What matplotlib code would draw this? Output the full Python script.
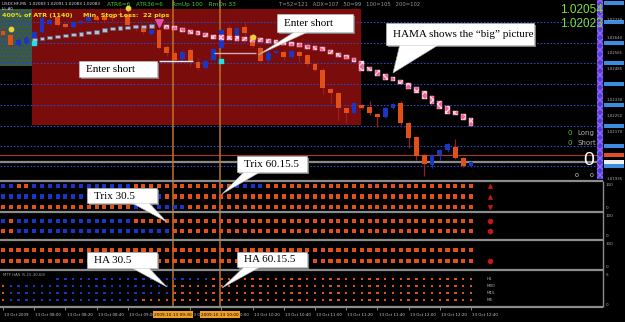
import numpy as np
import matplotlib
matplotlib.use("Agg")
import matplotlib.pyplot as plt
from matplotlib.patches import Rectangle, Polygon

# ---- data (USDCHF M5, 13 Oct 2009, 07:40 .. 12:40) ----
opens = [1.02675, 1.02655, 1.02605, 1.02615, 1.02640, 1.02670, 1.02710, 1.02745, 1.02710, 1.02695,
         1.02715, 1.02725, 1.02745, 1.02750, 1.02745, 1.02760, 1.02755, 1.02705, 1.02695, 1.02660,
         1.02680, 1.02595, 1.02565, 1.02535, 1.02580, 1.02520, 1.02490, 1.02530, 1.02590, 1.02690,
         1.02645, 1.02695, 1.02655, 1.02590, 1.02530, 1.02565, 1.02570, 1.02545, 1.02570, 1.02555,
         1.02510, 1.02480, 1.02385, 1.02365, 1.02290, 1.02265, 1.02305, 1.02295, 1.02260, 1.02245,
         1.02290, 1.02315, 1.02215, 1.02145, 1.02055, 1.02005, 1.02055, 1.02080, 1.02095, 1.02040,
         1.02000]
highs = [1.02685, 1.02665, 1.02640, 1.02650, 1.02680, 1.02750, 1.02735, 1.02760, 1.02715, 1.02725,
         1.02730, 1.02750, 1.02755, 1.02770, 1.02765, 1.02790, 1.02785, 1.02710, 1.02705, 1.02690,
         1.02690, 1.02605, 1.02575, 1.02580, 1.02590, 1.02540, 1.02530, 1.02590, 1.02690, 1.02705,
         1.02695, 1.02720, 1.02665, 1.02600, 1.02575, 1.02580, 1.02580, 1.02580, 1.02580, 1.02560,
         1.02520, 1.02490, 1.02390, 1.02370, 1.02295, 1.02320, 1.02310, 1.02325, 1.02265, 1.02295,
         1.02315, 1.02325, 1.02220, 1.02150, 1.02060, 1.02060, 1.02085, 1.02115, 1.02135, 1.02045,
         1.02025]
lows = [1.02645, 1.02595, 1.02600, 1.02610, 1.02630, 1.02665, 1.02705, 1.02700, 1.02690, 1.02690,
        1.02710, 1.02720, 1.02725, 1.02720, 1.02725, 1.02745, 1.02695, 1.02675, 1.02660, 1.02655,
        1.02585, 1.02550, 1.02520, 1.02530, 1.02500, 1.02480, 1.02485, 1.02525, 1.02585, 1.02640,
        1.02640, 1.02655, 1.02590, 1.02520, 1.02520, 1.02560, 1.02530, 1.02540, 1.02520, 1.02500,
        1.02475, 1.02360, 1.02315, 1.02230, 1.02215, 1.02260, 1.02285, 1.02255, 1.02195, 1.02240,
        1.02285, 1.02205, 1.02090, 1.02030, 1.01950, 1.01990, 1.02030, 1.02070, 1.02035, 1.01995,
        1.01995]
closes = [1.02655, 1.02605, 1.02630, 1.02640, 1.02670, 1.02740, 1.02730, 1.02705, 1.02695, 1.02720,
          1.02725, 1.02745, 1.02730, 1.02730, 1.02740, 1.02755, 1.02705, 1.02690, 1.02670, 1.02680,
          1.02590, 1.02565, 1.02530, 1.02570, 1.02525, 1.02490, 1.02525, 1.02585, 1.02680, 1.02645,
          1.02690, 1.02665, 1.02600, 1.02525, 1.02565, 1.02575, 1.02545, 1.02575, 1.02550, 1.02510,
          1.02480, 1.02390, 1.02365, 1.02290, 1.02265, 1.02315, 1.02290, 1.02265, 1.02245, 1.02290,
          1.02310, 1.02215, 1.02140, 1.02050, 1.02010, 1.02055, 1.02080, 1.02110, 1.02040, 1.02000,
          1.02020]

hama_start = 4
hama_turn = 20
hama = [1.02630, 1.02635, 1.02640, 1.02645, 1.02650, 1.02655, 1.02660, 1.02665, 1.02670, 1.02680,
        1.02685, 1.02690, 1.02693, 1.02695, 1.02698, 1.02700, 1.02705, 1.02695, 1.02690, 1.02680,
        1.02670, 1.02665, 1.02655, 1.02645, 1.02643, 1.02640, 1.02638, 1.02635, 1.02633, 1.02630,
        1.02625, 1.02620, 1.02615, 1.02610, 1.02605, 1.02595, 1.02590, 1.02585, 1.02570, 1.02555,
        1.02545, 1.02530, 1.02500, 1.02485, 1.02465, 1.02445, 1.02435, 1.02420, 1.02400, 1.02380,
        1.02355, 1.02330, 1.02305, 1.02280, 1.02265, 1.02245, 1.02220]

level_lines = [1.02720, 1.02615, 1.02515, 1.02410, 1.02305, 1.02200, 1.02100, 1.02000]
bid_price, ask_price = 1.02055, 1.02022
price_ticks = [1.02730, 1.02640, 1.02565, 1.02485, 1.02330, 1.02250, 1.02170, 1.01935]

session_box = (3.7, 45.9, 1.02205, 1.02785)   # bar from, bar to, low, high
range_box = (-0.4, 3.7, 1.02500, 1.02785)

entry_from = [20, 27]
entry_to = [24.4, 32.4]
entry_price = [1.02525, 1.02565]

yellow_bars, yellow_prices = [1, 16, 32], [1.02685, 1.02790, 1.02645]
cyan_bars, cyan_prices = [4, 28], [1.02615, 1.02525]

marked_bars = [22, 28]
marked_labels = ['2009.10.13 09:30', '2009.10.13 10:00']
# the 09:20 label sits fully under the first highlight, so it is not listed
tick_bars = [0, 4, 8, 12, 16, 24, 28, 32, 36, 40, 44, 48, 52, 56, 60]
tick_labels = ['13 Oct 2009', '13 Oct 08:00', '13 Oct 08:20', '13 Oct 08:40', '13 Oct 09:00',
               '13 Oct 09:40', '13 Oct 10:00', '13 Oct 10:20', '13 Oct 10:40',
               '13 Oct 11:00', '13 Oct 11:20', '13 Oct 11:40', '13 Oct 12:00', '13 Oct 12:20',
               '13 Oct 12:40']

# b = up (blue), r = down (orange), . = nothing
trix_rows = ['bb' + 'rr' + 'b' * 13 + 'r' * 13 + 'b' * 4 + 'r' * 27,
             'b' * 21 + 'r' * 40,
             'r' * 17 + 'b' * 7 + 'r' * 37]
trix2_rows = ['b' + 'r' + 'b' * 15 + 'r' * 44,
              'rr' + 'b' * 20 + 'r' * 39]
ha_rows = ['r' * 61, 'r' * 61]
mtf_rows = ['.' * 7 + 'b' * 20 + 'r' * 34,
            'r' + 'b' * 21 + 'r' * 39,
            'r' + 'b' * 21 + 'r' * 39,
            'r' + 'b' * 17 + 'r' * 43]
mtf_names = ['H1', 'M30', 'M15', 'M5']

# ---- styling ----
W, H = 625, 322
BULL, BEAR = '#1c36c4', '#e2501a'
SIG = {'b': '#1a36c8', 'r': '#e2501a'}
XL = (-3 / 7.8, 600 / 7.8)
YL = (1.01925, 1.02830)
SMALL = ['Liberation Sans Narrow', 'DejaVu Sans']
VLINE = '#c0722a'

fig = plt.figure(figsize=(W / 100, H / 100), dpi=100, facecolor='black')


def px_axes(x0, y0, x1, y1):
    a = fig.add_axes([x0 / W, 1 - y1 / H, (x1 - x0) / W, (y1 - y0) / H])
    a.set_facecolor('black')
    a.set_xticks([])
    a.set_yticks([])
    for s in a.spines.values():
        s.set_visible(False)
    return a


# ---- main price panel ----
ax = px_axes(0, 0, 603, 181)
ax.set_xlim(XL)
ax.set_ylim(YL)

b0, b1, lo, hi = session_box
ax.add_patch(Rectangle((b0, lo), b1 - b0, hi - lo, fc='#7a0c0c', ec='none', zorder=0.5))
r0, r1, rlo, rhi = range_box
ax.add_patch(Rectangle((r0, rlo), r1 - r0, rhi - rlo, fc='#3e5c34', ec='#2a48a8',
                       hatch='....', lw=0, zorder=0.6))

ax.hlines(level_lines, XL[0], XL[1], colors='#2848c0', linestyles=(0, (1.5, 1.5)), lw=0.8, zorder=1)
ax.axhline(bid_price, color='#a83a2a', lw=0.8, zorder=1)
ax.axhline(ask_price, color='#8a8a8a', lw=1.6, zorder=1)
for b in marked_bars:
    ax.axvline(b - 0.2, color=VLINE, lw=1.1, zorder=1.5)

idx = np.arange(len(opens))
o, h, l, c = map(np.array, (opens, highs, lows, closes))
up = c >= o
ax.vlines(idx, l, h, colors=np.where(up, '#2030a0', '#9a2020'), lw=0.9, zorder=2)
ax.bar(idx, np.maximum(np.abs(c - o), 0.00006), bottom=np.minimum(o, c), width=0.62,
       color=np.where(up, BULL, BEAR), zorder=3)

hb = np.arange(hama_start, hama_start + len(hama))
hv = np.array(hama)
hh = np.maximum(0.00022, 1.6 * np.abs(np.diff(hv, prepend=hv[0])))
gray = hb < hama_turn
pink = hb > hama_turn
ax.bar(hb[gray], 0.00015, bottom=hv[gray] - 0.000075, width=0.6, color='#b4c0d4',
       edgecolor='#506080', lw=0.4, zorder=4)
ax.bar(hb[pink], hh[pink], bottom=hv[pink] - hh[pink] / 2, width=0.6, color='#f06090',
       edgecolor='#ffd0e0', hatch='xxxx', lw=0.3, zorder=4)
ax.scatter([hama_turn], [hv[hb == hama_turn][0] + 0.0001], marker='v', s=30, color='#e050b0', zorder=5)

ax.hlines(entry_price, entry_from, entry_to, colors=['#f4e8e8', '#d8a8b0'], lw=1.0, zorder=4)
ax.scatter(yellow_bars, yellow_prices, s=10, color='#e8d040', zorder=6)
ax.scatter(cyan_bars, cyan_prices, s=10, marker='s', color='#20e0e0', zorder=6)

# right price scale
axr = px_axes(603, 0, 625, 181)
axr.set_xlim(0, 1)
axr.set_ylim(YL)
axr.barh(level_lines + [1.02815], 0.92, left=0.04, height=0.0002, color='#3c8ce0')
axr.barh([bid_price], 0.92, left=0.04, height=0.0002, color='#e05020')
axr.barh([ask_price], 0.92, left=0.04, height=0.0002, color='#f0f0f0')
for t in price_ticks:
    axr.text(0.15, t, f'{t:.5f}', fontsize=2.8, color='#b0b0b0', va='center', family=SMALL)


# ---- indicator panels ----
def draw_rows(a, rows, size):
    for r, row in enumerate(rows):
        xs = [i for i, k in enumerate(row) if k != '.']
        a.scatter(xs, [r] * len(xs), marker='s', s=size, c=[SIG[row[i]] for i in xs],
                  linewidths=0, zorder=3)


ax1 = px_axes(0, 181, 603, 212)
ax1.set_xlim(XL)
ax1.set_ylim(2.48, -0.48)
draw_rows(ax1, trix_rows, 9)
ax1.scatter([62.4, 62.4], [0, 1], marker='^', s=6, color='#c01818')
ax1.scatter([62.4], [2], marker='v', s=6, color='#c01818')

ax2 = px_axes(0, 212, 603, 240)
ax2.set_xlim(XL)
ax2.set_ylim(1.9, -0.9)
draw_rows(ax2, trix2_rows, 9)
ax2.scatter([62.4, 62.4], [0, 1], marker='P', s=6, color='#c01818')

ax3 = px_axes(0, 240, 603, 270)
ax3.set_xlim(XL)
ax3.set_ylim(1.82, -0.91)
draw_rows(ax3, ha_rows, 10)
ax3.scatter([62.4], [1], marker='P', s=6, color='#c01818')
ax3.text(0, -0.7, '. .', fontsize=3, color='#a0a0a0', va='center')

ax4 = px_axes(0, 270, 603, 307)
ax4.set_xlim(XL)
ax4.set_ylim(4.0, -1.29)
draw_rows(ax4, mtf_rows, 3.5)
for r, name in enumerate(mtf_names):
    ax4.text(62.0, r, name, fontsize=3, color='#b0b0b0', va='center', family=SMALL)
ax4.text(0, -0.6, 'MTF HAS (5,15,30,60)', fontsize=2.8, color='#a0a0a0', va='center', family=SMALL)

for a in (ax1, ax2, ax3, ax4):
    for b in marked_bars:
        a.axvline(b - 0.2, color=VLINE, lw=1.1, zorder=1)

# ---- time axis ----
axt = px_axes(0, 307, 603, 322)
axt.set_xlim(XL)
axt.set_ylim(1, 0)
axt.vlines(tick_bars, 0, 0.18, colors='#a0a0a0', lw=0.6)
for b, lab in zip(tick_bars, tick_labels):
    axt.text(b + 0.15, 0.5, lab, fontsize=2.9, color='#c8c8c8', va='center', family=SMALL)
for b, lab in zip(marked_bars, marked_labels):
    axt.text(b - 0.2, 0.5, lab, fontsize=3.1, color='black', va='center', ha='center',
             family=SMALL, zorder=5, bbox=dict(fc='#f0a028', ec='none', pad=0.8))

# ---- overlay: separators, texts, callouts ----
ov = fig.add_axes([0, 0, 1, 1])
ov.set_xlim(0, W)
ov.set_ylim(H, 0)
ov.axis('off')
ov.patch.set_alpha(0)

ov.hlines([181, 212, 240, 270, 307], 0, 603, colors='#8c8c8c', lw=1.6)
ov.vlines(603, 181, 307, colors='#8c8c8c', lw=1.0)
ov.add_patch(Rectangle((597, 0), 6, 179, fc='#5a3ad8', ec='#8a6aff', hatch='xxxx', lw=0))

ov.text(2, 4, 'USDCHF,M5  1.02083 1.02091 1.02083 1.02083', fontsize=3.0, color='#e0e0e0',
        va='center', family=SMALL)
ov.text(2, 9, 'L:L:A0', fontsize=2.8, color='#e0e0e0', va='center', family=SMALL)
ov.text(107, 4, 'ATR6=6   ATR36=6', fontsize=4.2, color='#3cc83c', va='center', family=SMALL)
ov.text(172, 4, 'RmUp 100   RmDn 33', fontsize=4.2, color='#3cc83c', va='center', family=SMALL)
ov.text(279, 4, 'T=52=121   ADX=107   50=99   100=105   200=102', fontsize=3.8, color='#9a9a9a',
        va='center', family=SMALL)
ov.text(2, 15, '400% of ATR (1140)', fontsize=4.6, color='#e8e020', va='center', weight='bold')
ov.text(83, 15, 'Min. Stop Loss:  22 pips', fontsize=4.6, color='#e8e020', va='center', weight='bold')

ov.text(603, 10, '1.02054', fontsize=8.5, color='#7ce03c', va='center', ha='right', family='Liberation Sans')
ov.text(603, 24, '1.02023', fontsize=8.5, color='#7ce03c', va='center', ha='right', family='Liberation Sans')
ov.text(570, 133, '0', fontsize=5, color='#60c030', va='center', ha='center')
ov.text(577, 133, 'Long', fontsize=5, color='#b0b0b0', va='center')
ov.text(570, 143, '0', fontsize=5, color='#60c030', va='center', ha='center')
ov.text(577, 143, 'Short', fontsize=5, color='#b0b0b0', va='center')
ov.text(589, 160, '0', fontsize=14, color='white', va='center', ha='center', family='Liberation Sans')
ov.text(577, 175, '0', fontsize=4.5, color='#e0e0e0', va='center', ha='center')
ov.text(592, 175, '0', fontsize=4.5, color='#e0e0e0', va='center', ha='center')

for y, lab in [(185, '100'), (208, '0'), (216, '100'), (236, '0'), (244, '100'),
               (267, '0'), (275, '5'), (305, '0')]:
    ov.text(606, y, lab, fontsize=3, color='#b0b0b0', va='center', family=SMALL)


def callout(text, box, wedge=None):
    x0, y0, x1, y1 = box
    ov.add_patch(Rectangle((x0 + 2, y0 + 2), x1 - x0, y1 - y0, fc='#7a7a7a', ec='none', zorder=6))
    if wedge is not None:
        ov.add_patch(Polygon(wedge, closed=True, fc='white', ec='#b0b0b0', lw=0.4, zorder=7))
    ov.add_patch(Rectangle((x0, y0), x1 - x0, y1 - y0, fc='white', ec='#c8c8c8', lw=0.4, zorder=8))
    ov.text(x0 + 7, (y0 + y1) / 2 + 0.5, text, fontsize=8, color='black', va='center',
            family='Liberation Serif', zorder=9)


callout('Enter short', (79, 61, 157, 77))
callout('Enter short', (277, 14, 353, 32), [(296, 31), (310, 31), (258, 55)])
callout('HAMA shows the \u201cbig\u201d picture', (386, 23, 534, 45), [(400, 44), (440, 44), (393, 73)])
callout('Trix 60.15.5', (237, 156, 307, 172), [(245, 171), (262, 171), (222, 194)])
callout('Trix 30.5', (87, 188, 157, 203), [(130, 202), (148, 202), (167, 222)])
callout('HA 30.5', (87, 252, 157, 268), [(130, 267), (148, 267), (167, 287)])
callout('HA 60.15.5', (237, 252, 307, 267), [(245, 266), (262, 266), (222, 288)])

fig.savefig('out.png', dpi=100, facecolor='black')
